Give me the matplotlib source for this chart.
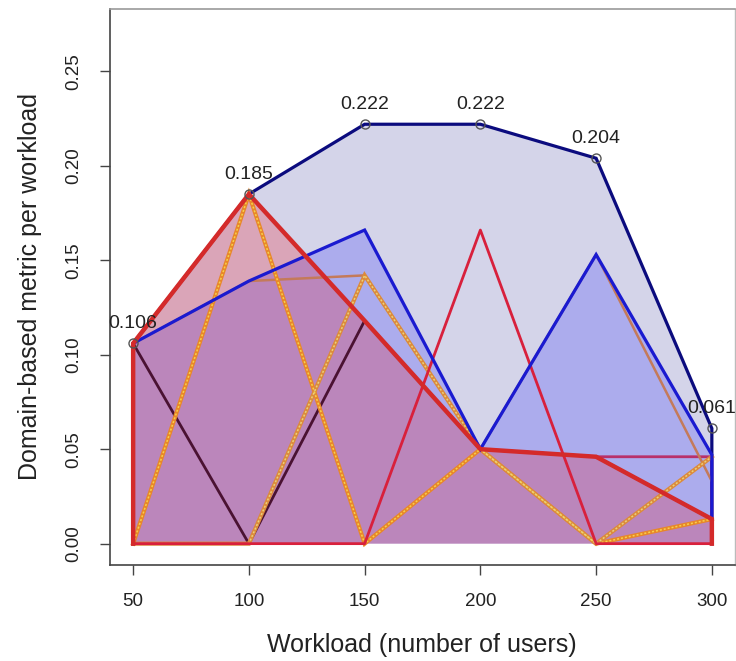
import matplotlib
matplotlib.use("Agg")
import matplotlib.pyplot as plt

plt.rcParams['font.family'] = ['Liberation Sans', 'DejaVu Sans']

# Workload levels (number of users)
workload = [50, 100, 150, 200, 250, 300]

# Domain-based metric per workload for each configuration
metric_max = [0.106, 0.185, 0.222, 0.222, 0.204, 0.061]
metric_blue = [0.106, 0.139, 0.166, 0.050, 0.153, 0.047]
metric_red = [0.106, 0.185, 0.118, 0.050, 0.046, 0.013]
metric_dark = [0.106, 0.000, 0.118, 0.050, 0.046, 0.013]
metric_orange_a = [0.000, 0.185, 0.000, 0.050, 0.000, 0.013]
metric_orange_b = [0.000, 0.000, 0.142, 0.050, 0.000, 0.046]
metric_brown = [0.106, 0.139, 0.142, 0.050, 0.153, 0.033]
metric_crimson = [0.000, 0.000, 0.000, 0.166, 0.000, 0.000]
metric_magenta = [0.106, 0.185, 0.118, 0.050, 0.046, 0.046]

x_ticks = [50, 100, 150, 200, 250, 300]
y_ticks = [0.00, 0.05, 0.10, 0.15, 0.20, 0.25]
value_labels = ["0.106", "0.185", "0.222", "0.222", "0.204", "0.061"]


def closed(vals):
    xs = [workload[0]] + list(workload) + [workload[-1]]
    ys = [0.0] + list(vals) + [0.0]
    return xs, ys


fig = plt.figure(figsize=(7.36, 6.61), dpi=100)
ax = fig.add_axes([110 / 736, 96 / 661, 625 / 736, 556 / 661])
ax.set_xlim(40, 310)
ax.set_ylim(-0.0113, 0.283)

# Filled polygons: envelope, blue and red configurations
ax.fill(*closed(metric_max), facecolor=(0.0, 0.0, 0.5, 0.17), edgecolor='none', zorder=1)
ax.fill(*closed(metric_blue), facecolor=(0.0, 0.0, 1.0, 0.19), edgecolor='none', zorder=2)
ax.fill(*closed(metric_red), facecolor=(0.95, 0.0, 0.05, 0.22), edgecolor='none', zorder=3)

# Envelope outline sits beneath the other outlines
ax.plot(*closed(metric_max), color='#0b0b7e', lw=2.3, zorder=3.5, solid_joinstyle='miter')


def striped(vals, base, stripe, z):
    ax.plot(workload, vals, color=base, lw=3.0, zorder=z, solid_joinstyle='miter')
    ax.plot(workload, vals, color=stripe, lw=1.1, zorder=z + 0.01,
            dashes=(1.3, 1.3))


# Thin outline series
ax.plot(*closed(metric_magenta), color='#b8306a', lw=2.0, zorder=4)
ax.plot(workload, metric_dark, color='#4a1232', lw=2.0, zorder=4)
ax.plot(workload, metric_brown, color='#c47a5a', lw=1.8, zorder=4)
striped(metric_orange_a, '#e8862a', '#f6d24a', 4.2)
striped(metric_orange_b, '#dc8a3c', '#ead27a', 4.2)
ax.plot(workload, metric_crimson, color='#d8203c', lw=2.0, zorder=4.5)

# Outlines of the blue and red polygons
ax.plot(*closed(metric_blue), color='#1a1ad0', lw=2.3, zorder=5, solid_joinstyle='miter')
ax.plot(*closed(metric_red), color='#d42a2a', lw=3.2, zorder=5.5, solid_joinstyle='miter')

# Markers and value labels on the envelope
ax.plot(workload, metric_max, linestyle='none', marker='o', ms=6.5,
        mfc='none', mec='#555555', mew=1.0, zorder=7)
for xv, yv, lab in zip(workload, metric_max, value_labels):
    ax.annotate(lab, (xv, yv), xytext=(0, 14), textcoords='offset points',
                ha='center', va='center', fontsize=14, color='#222222', zorder=8)

# Axes styling
ax.set_xticks(x_ticks)
ax.set_xticklabels([str(v) for v in x_ticks])
ax.set_yticks(y_ticks)
ax.set_yticklabels(["%.2f" % v for v in y_ticks], rotation=90, va='center')
ax.tick_params(axis='both', direction='out', length=7, width=1.0,
               color='#444444', labelsize=13.5, labelcolor='#222222', pad=13)
for side in ['left', 'bottom']:
    ax.spines[side].set_color('#444444')
    ax.spines[side].set_linewidth(1.2)
ax.spines['top'].set_color('#999999')
ax.spines['right'].set_color('#bbbbbb')
ax.spines['top'].set_linewidth(1.2)
ax.spines['right'].set_linewidth(1.0)

fig.text(422 / 736, 1 - 645 / 661, "Workload (number of users)", ha='center',
         va='center', fontsize=18, color='#222222')
fig.text(30 / 736, 1 - 287 / 661, "Domain-based metric per workload", ha='center',
         va='center', rotation=90, fontsize=18, color='#222222')

fig.savefig("out.png", dpi=100)
